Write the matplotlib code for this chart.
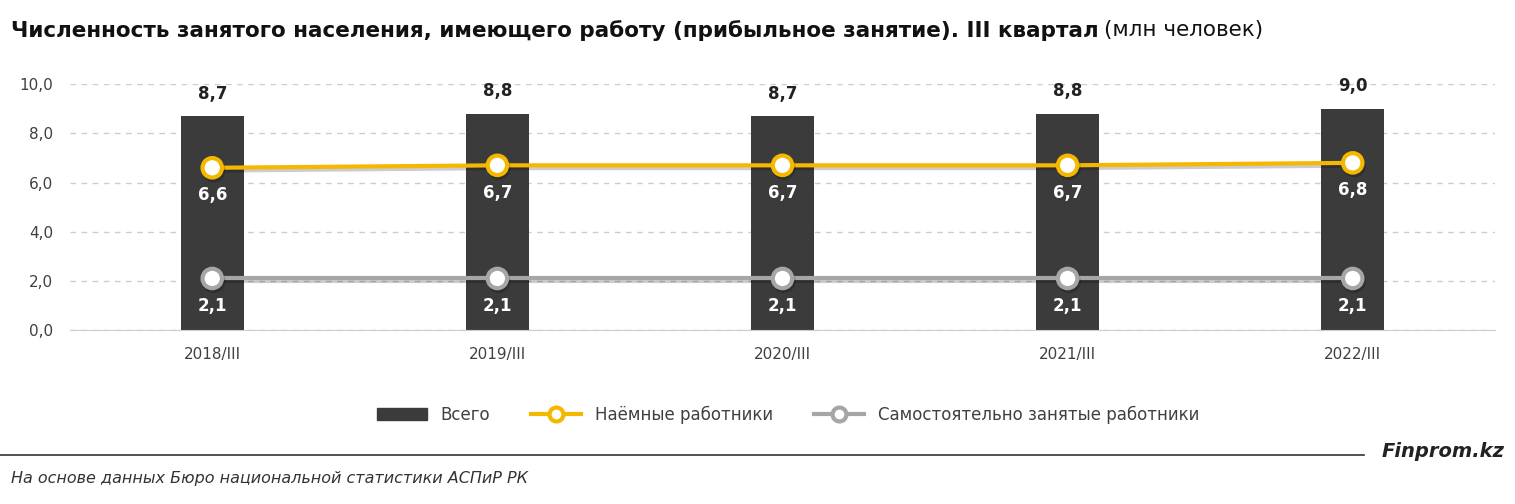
import matplotlib
matplotlib.use("Agg")
import matplotlib.pyplot as plt
import matplotlib.patheffects as pe
from matplotlib.lines import Line2D
from matplotlib.patches import Patch

categories = ["2018/III", "2019/III", "2020/III", "2021/III", "2022/III"]
total = [8.7, 8.8, 8.7, 8.8, 9.0]
hired = [6.6, 6.7, 6.7, 6.7, 6.8]
self_emp = [2.1, 2.1, 2.1, 2.1, 2.1]
yticks = [0, 2, 4, 6, 8, 10]

plt.rcParams["font.family"] = "DejaVu Sans"
fig = plt.figure(figsize=(15.15, 5.04), dpi=100)
ax = fig.add_axes([0.046, 0.345, 0.941, 0.488])
x = range(len(categories))
ax.bar(x, total, width=0.22, color="#3b3b3b", zorder=2)
shadow = [pe.SimpleLineShadow(offset=(1, -2), alpha=0.2, shadow_color="black"), pe.Normal()]
ax.plot(x, hired, color="#f5b800", lw=3, marker="o", ms=14, mfc="white",
        mec="#f5b800", mew=3, zorder=4, path_effects=shadow)
ax.plot(x, self_emp, color="#a6a6a6", lw=3, marker="o", ms=14, mfc="white",
        mec="#a6a6a6", mew=3, zorder=4, path_effects=shadow)
for i in x:
    ax.text(i, total[i] + 0.55, f"{total[i]:.1f}".replace(".", ","), ha="center",
            va="bottom", fontsize=12, fontweight="bold", color="#222222")
    ax.text(i, hired[i] - 0.75, f"{hired[i]:.1f}".replace(".", ","), ha="center",
            va="top", fontsize=12, fontweight="bold", color="white", zorder=5)
    ax.text(i, self_emp[i] - 0.75, f"{self_emp[i]:.1f}".replace(".", ","), ha="center",
            va="top", fontsize=12, fontweight="bold", color="white", zorder=5)
ax.set_ylim(0, 10)
ax.set_xlim(-0.5, 4.5)
ax.set_yticks(yticks)
ax.set_yticklabels([f"{v:.1f}".replace(".", ",") for v in yticks], fontsize=11, color="#404040")
ax.set_xticks(list(x))
ax.set_xticklabels(categories, fontsize=11, color="#404040")
ax.yaxis.grid(True, ls=(0, (4, 4)), color="#cccccc", lw=1, zorder=0)
ax.set_axisbelow(True)
for s in ["top", "right", "left"]:
    ax.spines[s].set_visible(False)
ax.spines["bottom"].set_color("#cccccc")
ax.tick_params(length=0, pad=12)

handles = [Patch(color="#3b3b3b"),
           Line2D([], [], color="#f5b800", lw=3, marker="o", ms=10, mfc="white", mew=3),
           Line2D([], [], color="#a6a6a6", lw=3, marker="o", ms=10, mfc="white", mew=3)]
fig.legend(handles, ["Всего", "Наёмные работники", "Самостоятельно занятые работники"],
           loc="center", bbox_to_anchor=(0.52, 0.177), ncol=3, frameon=False,
           fontsize=12, handlelength=3, columnspacing=2.5, labelcolor="#404040")

t = fig.text(0.007, 0.94, "Численность занятого населения, имеющего работу (прибыльное занятие). III квартал",
             fontsize=15.5, fontweight="bold", va="center", color="#111111")
fig.canvas.draw()
bb = t.get_window_extent()
fig.text(bb.x1 / fig.bbox.width + 0.004, 0.94, "(млн человек)", fontsize=15.5,
         va="center", color="#111111")

fig.add_artist(Line2D([0.0, 0.9], [0.098, 0.098], color="#333333", lw=1.2))
fig.text(0.993, 0.105, "Finprom.kz", fontsize=14, fontweight="bold", style="italic",
         ha="right", va="center", color="#222222")
fig.text(0.007, 0.05, "На основе данных Бюро национальной статистики АСПиР РК",
         fontsize=11.5, style="italic", va="center", color="#333333")
fig.savefig("out.png", dpi=100)
